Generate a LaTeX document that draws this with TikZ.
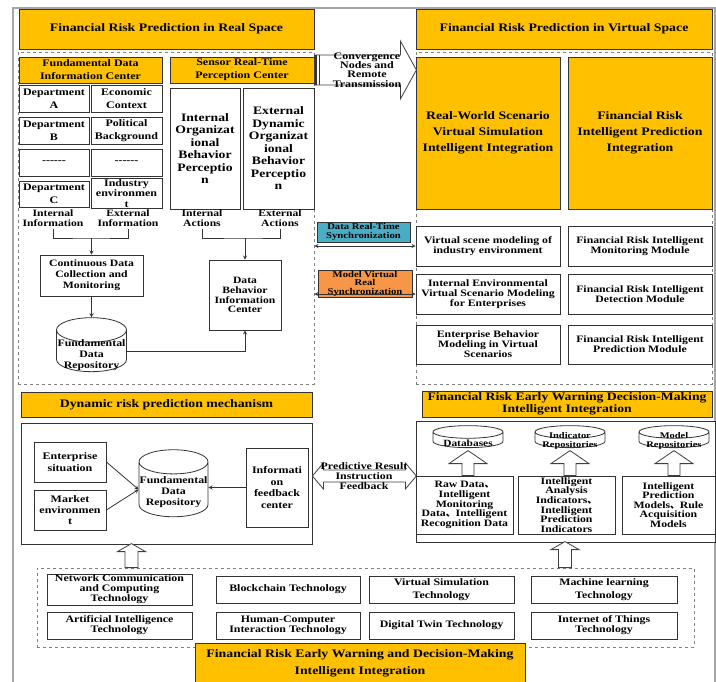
\documentclass[tikz,border=0pt]{standalone}
\usepackage{fontspec}
\setmainfont[FakeStretch=1.2]{Liberation Serif}
\newfontfamily\cjk{Noto Sans CJK SC}
\usetikzlibrary{shapes.geometric,positioning}
\tikzset{>=stealth}
\definecolor{gold}{HTML}{FFC000}
\definecolor{syncblue}{HTML}{4BACC6}
\definecolor{syncorange}{HTML}{F79646}
\newcommand{\fsz}[2]{\bfseries\fontsize{#1}{#2}\selectfont}
\tikzset{
	ybox/.style={draw=black!80,fill=gold,align=center,inner sep=1pt,line width=0.8pt},
	wbox/.style={draw=black!80,fill=white,align=center,inner sep=1pt,line width=0.8pt},
	dbox/.style={wbox,minimum width=70pt,minimum height=27pt,font=\fsz{10}{13.5}},
	mbox/.style={wbox,minimum width=144pt,minimum height=40pt,font=\fsz{9.8}{10}},
	tbox/.style={wbox,minimum height=27pt,font=\fsz{9.9}{10}},
	zone/.style={draw=black!50,dashed,line width=0.8pt},
	repo/.style={cylinder,shape border rotate=90,draw=black!80,fill=white,inner sep=0pt,line width=0.8pt},
	lbl/.style={align=center,inner sep=0pt},
	flow/.style={->,draw=black!80,line width=0.8pt},
	link/.style={draw=black!80,line width=0.8pt},
	hollow/.style={draw=black!75,fill=white,line width=0.8pt},
}

\begin{document}
\begin{tikzpicture}[x=1pt,y=-1pt]
				\useasboundingbox (0,0) rectangle (716,682);
				\draw[draw=black!35,line width=1.2pt] (13,684) -- (13,8) -- (715,8) -- (715,684);

				\node[ybox,minimum width=295pt,minimum height=40pt,font=\fsz{11.5}{13}] (realttl) at (166.5,29) {Financial Risk Prediction in Real Space};
				\node[ybox,minimum width=296pt,minimum height=40pt,font=\fsz{11.5}{13}] (virtttl) at (564,29) {Financial Risk Prediction in Virtual Space};
				\node[zone,minimum width=296pt,minimum height=332pt] (realzone) at (166,218) {};
				\node[zone,minimum width=296pt,minimum height=332pt] (virtzone) at (564,218) {};

				\node[ybox,minimum width=143pt,minimum height=26pt,font=\fsz{10}{13}] (fdic) at (90.5,70) {Fundamental Data\\Information Center};
				\node[ybox,minimum width=144pt,minimum height=26pt,font=\fsz{10}{13}] (srpc) at (242,70) {Sensor Real-Time\\Perception Center};

				\node[dbox] (depa) at (54,98.5) {Department\\A};
				\node[dbox,minimum width=71pt] (econ) at (126.5,98.5) {Economic\\Context};
				\node[dbox] (depb) at (54,130.5) {Department\\B};
				\node[dbox,minimum width=71pt] (polit) at (126.5,130.5) {Political\\Background};
				\node[dbox] (dotsa) at (54,162.5) {{-}{-}{-}{-}{-}{-}};
				\node[dbox,minimum width=71pt] (dotsb) at (126.5,162.5) {{-}{-}{-}{-}{-}{-}};
				\node[dbox,minimum height=26pt] (depc) at (54,194) {Department\\C};
				\node[dbox,minimum width=71pt,minimum height=26pt,font=\fsz{10}{10.5}] (indus) at (126.5,193.5) {Industry\\environmen\\t};

				\node[wbox,minimum width=70pt,minimum height=121pt,font=\fsz{11.4}{12.5}] (iobp) at (205,148.5) {Internal\\Organizat\\ional\\Behavior\\Perceptio\\n};
				\node[wbox,minimum width=71pt,minimum height=121pt,font=\fsz{11.4}{12.5}] (eobp) at (278.5,148.5) {External\\Dynamic\\Organizat\\ional\\Behavior\\Perceptio\\n};

				\node[lbl,minimum height=20pt,font=\fsz{9.7}{10}] (intinfo) at (53,218.5) {Internal\\Information};
				\node[lbl,minimum height=20pt,font=\fsz{9.7}{10}] (extinfo) at (128,218.5) {External\\Information};
				\node[lbl,minimum height=20pt,font=\fsz{9.7}{10}] (intact) at (202,218.5) {Internal\\Actions};
				\node[lbl,minimum height=20pt,font=\fsz{9.7}{10}] (extact) at (280,218.5) {External\\Actions};

				\node[wbox,minimum width=103pt,minimum height=41pt,font=\fsz{9.75}{11}] (cdcm) at (91.5,275.5) {Continuous Data\\Collection and\\Monitoring};
				\node[wbox,minimum width=72pt,minimum height=70pt,font=\fsz{9.7}{9.8}] (dbic) at (245,295) {Data\\Behavior\\Information\\Center};
				\node[repo,minimum width=70pt,minimum height=54pt,aspect=0.35] (fdr) at (91.5,351) {\rule{70pt}{0pt}};
				\node[lbl,font=\fsz{9.9}{11}] (fdrtext) at (91.5,355) {Fundamental\\Data\\Repository};

				\coordinate (infojoin) at (91.5,238);
				\coordinate (actjoin) at (245,238);
				\draw[link] (intinfo.south) |- (infojoin) -| (extinfo.south);
				\draw[link] (intact.south) |- (actjoin) -| (extact.south);
				\draw[flow] (infojoin) -- (cdcm.north);
				\draw[flow] (actjoin) -- (dbic.north);
				\draw[flow] (cdcm.south) -- (fdr.north);
				\draw[flow] (fdr.east) -| (dbic.south);

				\node[ybox,minimum width=144pt,minimum height=152pt,font=\fsz{11.5}{16}] (rwsv) at (488,133) {Real-World Scenario\\Virtual Simulation\\Intelligent Integration};
				\node[ybox,minimum width=144pt,minimum height=152pt,font=\fsz{11.5}{16}] (frip) at (640,133) {Financial Risk\\Intelligent Prediction\\Integration};

				\node[mbox] (vsm) at (488,246) {Virtual scene modeling of\\industry environment};
				\node[mbox] (ievm) at (488,294) {Internal Environmental\\Virtual Scenario Modeling\\for Enterprises};
				\node[mbox,minimum height=39pt] (ebm) at (488,344.5) {Enterprise Behavior\\Modeling in Virtual\\Scenarios};
				\node[mbox] (frim) at (640,246) {Financial Risk Intelligent\\Monitoring Module};
				\node[mbox] (frid) at (640,294) {Financial Risk Intelligent\\Detection Module};
				\node[mbox,minimum height=39pt] (frpm) at (640,344.5) {Financial Risk Intelligent\\Prediction Module};

				\draw[hollow] (srpc.east) ++(0,-15) -- ++(86,0) -- ++(0,-14) -- ++(16,29) -- ++(-16,29) -- ++(0,-14) -- ++(-86,0) -- cycle;
				\draw[draw=black!80,line width=1.6pt] (srpc.east) ++(1.5,-15) -- ++(0,30);
				\draw[draw=black!80,line width=1pt] (srpc.east) ++(5,-15) -- ++(0,30);
				\node[lbl,font=\fsz{10}{9.3}] (cvtext) at (367,70) {Convergence\\Nodes and\\Remote\\Transmission};

				\node[wbox,fill=syncblue,minimum width=93pt,minimum height=20pt,font=\fsz{8.9}{8.5}] (dsync) at (363.5,232) {Data Real-Time\\Synchronization};
				\node[wbox,fill=syncorange,minimum width=94pt,minimum height=21pt,font=\fsz{8.9}{8.5}] (msync) at (365,283.5) {Model Virtual\\Real\\Synchronization};
				\draw[<->,link] (realzone.east |- vsm.west) -- (vsm.west);
				\draw[<->,link] (realzone.east |- ievm.west) -- (ievm.west);

				\node[ybox,minimum width=291pt,minimum height=25pt,font=\fsz{11.5}{13}] (dynttl) at (166.5,404.5) {Dynamic risk prediction mechanism};
				\node[wbox,minimum width=291pt,minimum height=121pt] (dynbox) at (166.5,483.5) {};
				\node[wbox,minimum width=72pt,minimum height=40pt,font=\fsz{10}{12}] (ent) at (70,462) {Enterprise\\situation};
				\node[wbox,minimum width=72pt,minimum height=40pt,font=\fsz{10}{11}] (mkt) at (70,510) {Market\\environmen\\t};
				\node[repo,minimum width=69pt,minimum height=67pt,aspect=0.35] (fdrb) at (173.5,489.5) {\rule{69pt}{0pt}};
				\node[lbl,font=\fsz{9.9}{11}] (fdrbtext) at (173.5,492) {Fundamental\\Data\\Repository};
				\node[wbox,minimum width=62pt,minimum height=79pt,font=\fsz{10}{11.7}] (ifc) at (277,487.5) {Informati\\on\\feedback\\center};
				\draw[flow] (ent.east) -- (fdrb.west);
				\draw[flow] (mkt.east) -- (fdrb.west);
				\draw[flow] (ifc.west) -- (ifc.west -| fdrb.east);

				\draw[hollow] (dynbox.east |- 0,476) -- ++(11,-13) -- ++(0,7) -- ++(82,0) -- ++(0,-7) -- ++(11,13) -- ++(-11,13) -- ++(0,-7) -- ++(-82,0) -- ++(0,7) -- cycle;
				\node[lbl,font=\fsz{9.9}{10}] (predtext) at (364,476) {Predictive Result\\Instruction\\Feedback};

				\node[ybox,minimum width=290pt,minimum height=26pt,font=\fsz{11.4}{12.5}] (ewttl) at (567,404) {Financial Risk Early Warning Decision-Making\\Intelligent Integration};
				\node[wbox,minimum width=299pt,minimum height=121pt] (ewbox) at (565.5,481.5) {};
				\node[repo,minimum width=70pt,minimum height=22pt,aspect=0.18] (dbase) at (468,440) {\rule{70pt}{0pt}};
				\node[repo,minimum width=70pt,minimum height=22pt,aspect=0.18] (irepo) at (570,440) {\rule{70pt}{0pt}};
				\node[repo,minimum width=70pt,minimum height=22pt,aspect=0.18] (mrepo) at (674,440) {\rule{70pt}{0pt}};
				\node[lbl,font=\fsz{9.5}{9}] (dbasetext) at (468,443.5) {Databases};
				\node[lbl,font=\fsz{8.7}{9}] (irepotext) at (570,441) {Indicator\\Repositories};
				\node[lbl,font=\fsz{8.7}{9}] (mrepotext) at (674,441) {Model\\Repositories};
				\node[wbox,minimum width=97pt,minimum height=58pt,font=\fsz{9.8}{9.6}] (rawd) at (464.5,505) {Raw Data{\cjk 、}\\Intelligent\\Monitoring\\Data{\cjk 、}Intelligent\\Recognition Data};
				\node[wbox,minimum width=97pt,minimum height=58pt,font=\fsz{9.8}{9.6}] (indd) at (566.5,505) {Intelligent\\Analysis\\Indicators{\cjk 、}\\Intelligent\\Prediction\\Indicators};
				\node[wbox,minimum width=93pt,minimum height=58pt,font=\fsz{9.8}{9.6}] (modd) at (668.5,505) {Intelligent\\Prediction\\Models{\cjk 、}Rule\\Acquisition\\Models};
				\draw[hollow] (rawd.north -| dbase.south) ++(-6,0) -- ++(0,-12) -- ++(-13,0) -- ++(19,-13) -- ++(19,13) -- ++(-13,0) -- ++(0,12) -- cycle;
				\draw[hollow] (indd.north -| irepo.south) ++(-6,0) -- ++(0,-12) -- ++(-13,0) -- ++(19,-13) -- ++(19,13) -- ++(-13,0) -- ++(0,12) -- cycle;
				\draw[hollow] (modd.north -| mrepo.south) ++(-6,0) -- ++(0,-12) -- ++(-13,0) -- ++(19,-13) -- ++(19,13) -- ++(-13,0) -- ++(0,12) -- cycle;

				\node[zone,minimum width=657pt,minimum height=79pt] (techzone) at (365.5,607.5) {};
				\node[tbox,minimum width=145pt] (netc) at (119.5,589.5) {Network Communication\\and Computing\\Technology};
				\node[tbox,minimum width=144pt] (block) at (288,589.5) {Blockchain Technology};
				\node[tbox,minimum width=145pt] (vsim) at (441.5,589.5) {Virtual Simulation\\[3pt]Technology};
				\node[tbox,minimum width=146pt] (mlt) at (604,589.5) {Machine learning\\[3pt]Technology};
				\node[tbox,minimum width=145pt] (ait) at (119.5,625.5) {Artificial Intelligence\\Technology};
				\node[tbox,minimum width=144pt] (hci) at (288,625.5) {Human-Computer\\Interaction Technology};
				\node[tbox,minimum width=145pt] (dtt) at (441.5,625.5) {Digital Twin Technology};
				\node[tbox,minimum width=146pt] (iot) at (604,625.5) {Internet of Things\\Technology};
				\node[ybox,minimum width=330pt,minimum height=41pt,font=\fsz{11.5}{17}] (ewbottom) at (360,663.5) {Financial Risk Early Warning and Decision-Making\\Intelligent Integration};

				\coordinate (upl) at (131.5,568);
				\coordinate (upr) at (565,568);
				\draw[hollow] (techzone.north -| upl) ++(-6.5,0) -- ++(0,-16) -- ++(-7.5,0) -- ++(14,-8) -- ++(14,8) -- ++(-7.5,0) -- ++(0,16) -- cycle;
				\draw[hollow] (techzone.north -| upr) ++(-6.5,0) -- ++(0,-18) -- ++(-7.5,0) -- ++(14,-8) -- ++(14,8) -- ++(-7.5,0) -- ++(0,18) -- cycle;
				\end{tikzpicture}
\end{document}
